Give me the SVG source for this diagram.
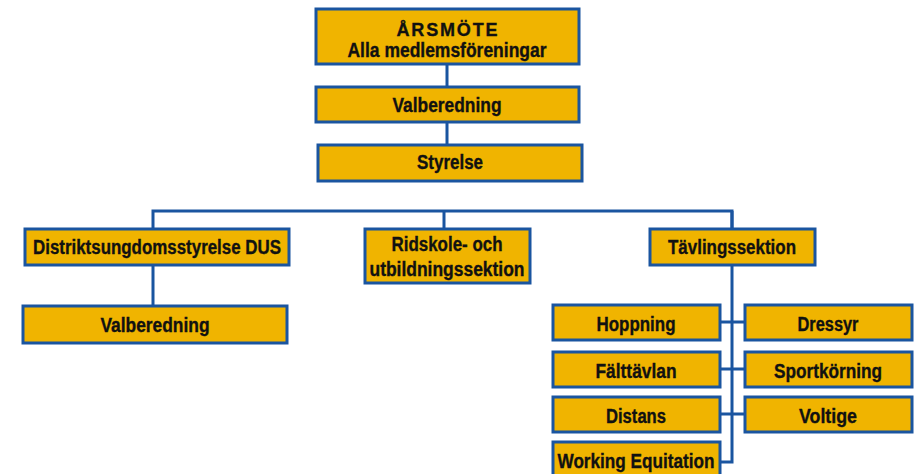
<svg xmlns="http://www.w3.org/2000/svg" width="917" height="474" viewBox="0 0 917 474">
<style>
.box{fill:#F0B400;stroke:#1A55A0;stroke-width:3}
.ln{fill:none;stroke:#1A55A0;stroke-width:3}
text{font-family:"Liberation Sans",Arial,sans-serif;font-weight:bold;font-size:20px;fill:#111;stroke:#111;stroke-width:0.35;text-anchor:middle}
</style>
<rect width="917" height="474" fill="#fff"/>
<g id="connectors">
<path class="ln" d="M447 64V87M447 122V144"/>
<path class="ln" d="M153 306V211H732V462H720"/>
<path class="ln" d="M444 211V228M732 211V229"/>
<path class="ln" d="M720 322H744M720 369H744M720 414H744"/>
</g>
<g id="arsmote"><rect class="box" x="316" y="9" width="263" height="55"/><text x="447" y="36" textLength="101" lengthAdjust="spacing" style="font-size:18px">ÅRSMÖTE</text><text x="447" y="57" textLength="199" lengthAdjust="spacingAndGlyphs">Alla medlemsföreningar</text></g>
<g id="valberedning1"><rect class="box" x="316" y="87" width="263" height="35"/><text x="447" y="112" textLength="109" lengthAdjust="spacingAndGlyphs">Valberedning</text></g>
<g id="styrelse"><rect class="box" x="318" y="145" width="264" height="36"/><text x="450" y="169" textLength="66" lengthAdjust="spacingAndGlyphs">Styrelse</text></g>
<g id="dus"><rect class="box" x="25" y="229" width="264" height="36"/><text x="157" y="254" textLength="248" lengthAdjust="spacingAndGlyphs">Distriktsungdomsstyrelse DUS</text></g>
<g id="valberedning2"><rect class="box" x="23" y="306" width="264" height="37"/><text x="155" y="332" textLength="109" lengthAdjust="spacingAndGlyphs">Valberedning</text></g>
<g id="ridskole"><rect class="box" x="365" y="229" width="165" height="54"/><text x="447" y="251" textLength="111" lengthAdjust="spacingAndGlyphs">Ridskole- och</text><text x="447" y="276" textLength="155" lengthAdjust="spacingAndGlyphs">utbildningssektion</text></g>
<g id="tavling"><rect class="box" x="650" y="229" width="165" height="36"/><text x="732" y="254" textLength="128" lengthAdjust="spacingAndGlyphs">Tävlingssektion</text></g>
<g id="hoppning"><rect class="box" x="553" y="305" width="167" height="35"/><text x="636" y="331" textLength="79" lengthAdjust="spacingAndGlyphs">Hoppning</text></g>
<g id="dressyr"><rect class="box" x="745" y="305" width="167" height="35"/><text x="828" y="331" textLength="61" lengthAdjust="spacingAndGlyphs">Dressyr</text></g>
<g id="falttavlan"><rect class="box" x="553" y="352" width="167" height="35"/><text x="636" y="378" textLength="81" lengthAdjust="spacingAndGlyphs">Fälttävlan</text></g>
<g id="sportkorning"><rect class="box" x="745" y="352" width="167" height="35"/><text x="828" y="378" textLength="108" lengthAdjust="spacingAndGlyphs">Sportkörning</text></g>
<g id="distans"><rect class="box" x="553" y="397" width="167" height="35"/><text x="636" y="423" textLength="60" lengthAdjust="spacingAndGlyphs">Distans</text></g>
<g id="voltige"><rect class="box" x="745" y="397" width="167" height="35"/><text x="828" y="423" textLength="58" lengthAdjust="spacingAndGlyphs">Voltige</text></g>
<g id="working"><rect class="box" x="553" y="442" width="167" height="40"/><text x="636" y="468" textLength="157" lengthAdjust="spacingAndGlyphs">Working Equitation</text></g>
</svg>
